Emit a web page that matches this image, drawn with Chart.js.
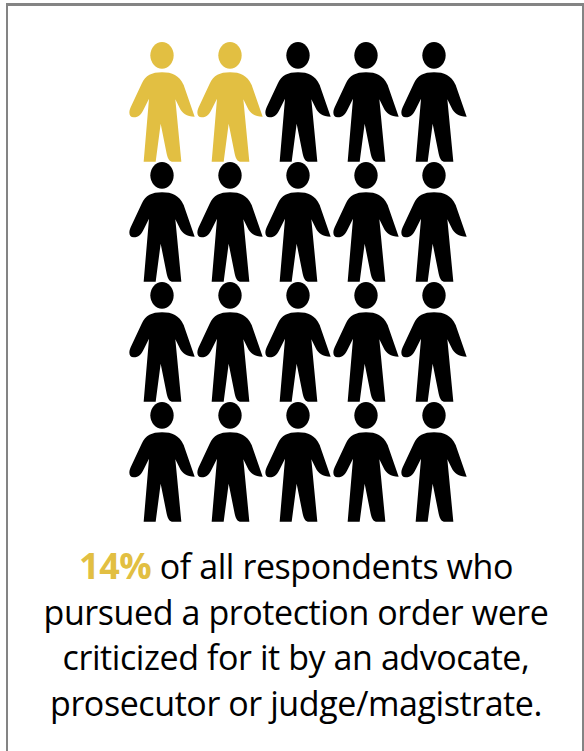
<!DOCTYPE html>
<html>
<head>
<meta charset="utf-8">
<style>
  html, body { margin: 0; padding: 0; background: #fff; }
  body { width: 584px; height: 751px; position: relative; overflow: hidden; }
  .frame { position: absolute; left: 6px; top: 3px; width: 574px; height: 800px; border: 2px solid #848484; border-width: 3px 2px 0 2px; box-sizing: content-box; }
  .chart-box { position: absolute; left: 0; top: 0; width: 584px; height: 530px; }
  .caption { position: absolute; left: 0; top: 543px; width: 592px; margin: 0; text-align: center;
    font-family: "Open Sans", sans-serif; font-size: 34px; line-height: 45.6px; letter-spacing: -0.42px; color: #000; }
  .caption b { color: #e2bf42; font-weight: 700; font-size: 36px; }
</style>
</head>
<body>
<div class="frame"></div>
<div class="chart-box"><canvas id="chart" width="584" height="530"></canvas></div>
<p class="caption"><b>14%</b> of all respondents who<br>pursued a protection order were<br>criticized for it by an advocate,<br>prosecutor or judge/magistrate.</p>

<script src="https://cdn.jsdelivr.net/npm/chart.js@4"></script>
<script>
  const GOLD = "#e2bf42";
  const BLACK = "#000000";

  // column / row of each figure in the grid
  const goldCols = [1, 2];
  const goldRows = [1, 1];
  const blackCols = [3, 4, 5, 1, 2, 3, 4, 5, 1, 2, 3, 4, 5, 1, 2, 3, 4, 5];
  const blackRows = [1, 1, 1, 2, 2, 2, 2, 2, 3, 3, 3, 3, 3, 4, 4, 4, 4, 4];

  // person marker, drawn once per colour and handed to Chart.js as a pointStyle
  function personSprite(color) {
    const c = document.createElement("canvas");
    c.width = 66;
    c.height = 120;
    const ctx = c.getContext("2d");
    ctx.scale(1 / 3, 1 / 3);
    ctx.fillStyle = color;
    ctx.beginPath();
    ctx.ellipse(99, 40, 35, 40, 0, 0, Math.PI * 2);
    ctx.fill();
    ctx.beginPath();
    ctx.moveTo(99, 91);
    ctx.bezierCurveTo(68, 91, 50, 100, 38, 125);
    ctx.lineTo(5, 196);
    ctx.bezierCurveTo(-2, 212, 0, 226, 14, 226);
    ctx.bezierCurveTo(30, 226, 38, 215, 45, 200);
    ctx.lineTo(60, 170);
    ctx.lineTo(44, 359);
    ctx.lineTo(80, 359);
    ctx.lineTo(95, 245);
    ctx.lineTo(113, 335);
    ctx.bezierCurveTo(117, 352, 122, 359, 132, 359);
    ctx.lineTo(157, 359);
    ctx.lineTo(139, 172);
    ctx.lineTo(152, 198);
    ctx.bezierCurveTo(160, 214, 172, 224, 197, 224);
    ctx.lineTo(164, 129);
    ctx.bezierCurveTo(150, 100, 130, 91, 99, 91);
    ctx.closePath();
    ctx.fill();
    return c;
  }

  function toPoints(cols, rows) {
    return cols.map((x, i) => ({ x, y: rows[i] }));
  }

  new Chart(document.getElementById("chart"), {
    type: "scatter",
    data: {
      datasets: [
        { data: toPoints(goldCols, goldRows), pointStyle: personSprite(GOLD), clip: false },
        { data: toPoints(blackCols, blackRows), pointStyle: personSprite(BLACK), clip: false },
      ],
    },
    options: {
      responsive: false,
      animation: false,
      layout: { padding: { left: 128, right: 116, top: 42, bottom: 8 } },
      plugins: { legend: { display: false }, tooltip: { enabled: false } },
      scales: {
        x: { type: "linear", min: 0.5, max: 5.5, display: false },
        y: { type: "linear", min: 0.5, max: 4.5, reverse: true, display: false },
      },
    },
  });
</script>
</body>
</html>
